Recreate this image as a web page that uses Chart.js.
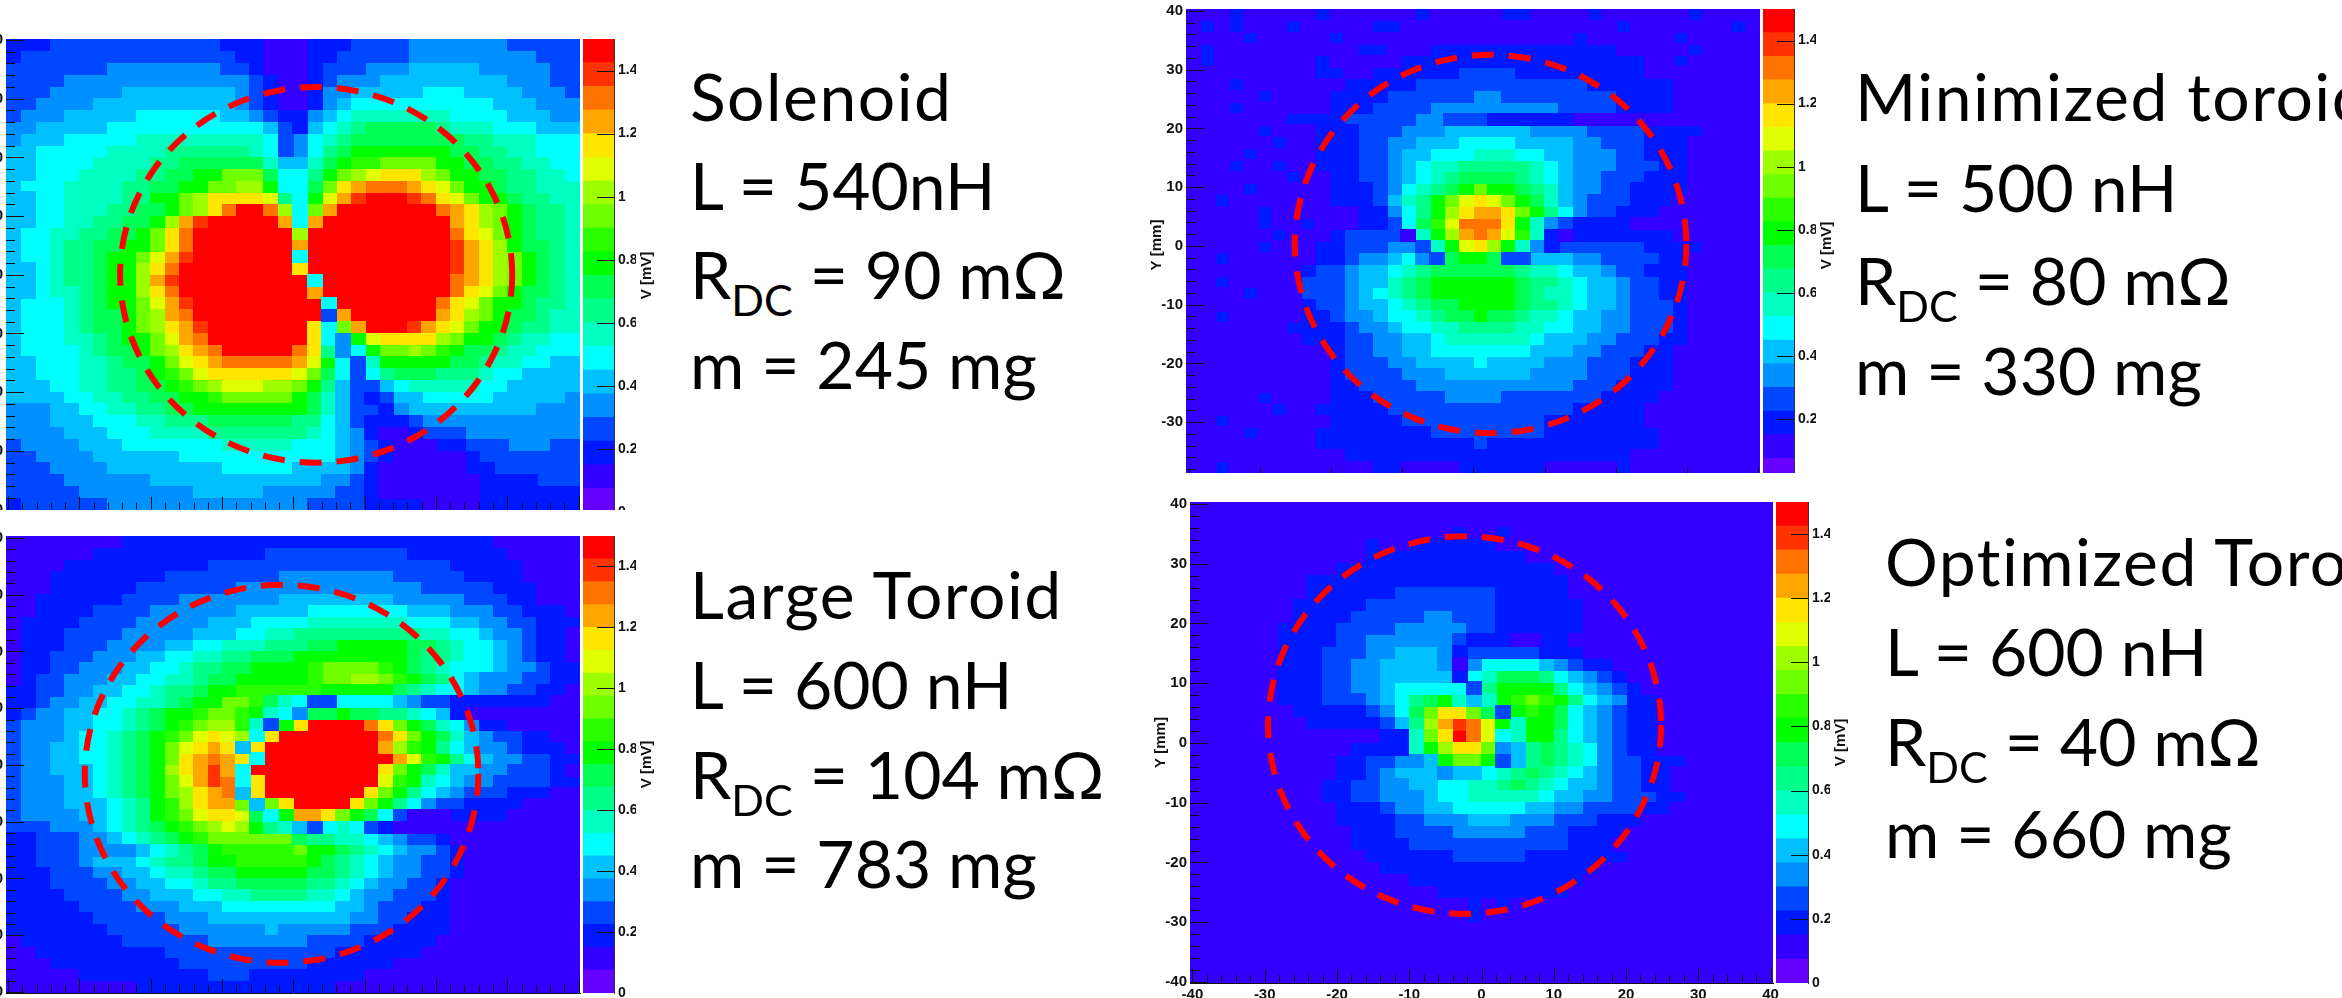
<!DOCTYPE html>
<html><head><meta charset="utf-8">
<style>
html,body{margin:0;padding:0;background:#fff;width:2342px;height:998px;overflow:hidden}
.crop{position:absolute;left:0;top:0;width:2342px;overflow:hidden}
canvas{position:absolute}
.t{position:absolute;font-family:Lato,"Open Sans",sans-serif;font-size:66px;line-height:80px;color:#000;white-space:nowrap}
.t.head{letter-spacing:1.5px}
.t span{font-size:43px;position:relative;top:17px}
</style>
<script src="https://cdn.jsdelivr.net/npm/chart.js@4"></script>
</head><body>
<script>
const levelColors=["#6600ff","#3300ff","#0018ff","#0048ff","#0090ff","#00c0ff","#00ffff","#00ffc3","#00ff8a","#00ff55","#00ff00","#2aff00","#6eff00","#9dff00","#e0ff00","#ffe600","#ffa500","#ff7300","#ff3300","#ff0000"];
const bandEdges=[0,0.075,0.15,0.225,0.3,0.375,0.45,0.525,0.6,0.675,0.75,0.825,0.9,0.975,1.05,1.125,1.2,1.275,1.35,1.425,1.5];
const colorTicks=[0,0.2,0.4,0.6,0.8,1,1.2,1.4];
const colorAxisTitle='V [mV]';
const axisTicks=[-40,-30,-20,-10,0,10,20,30,40];
const minorAxisTicks=[-38,-36,-34,-32,-28,-26,-24,-22,-18,-16,-14,-12,-8,-6,-4,-2,2,4,6,8,12,14,16,18,22,24,26,28,32,34,36,38];

const solenoidRows=[
"222 333333333333 222 111 222 3333 4444444 33333",
"2 333333333333333 22 111 22 33333 444444444 333",
"3333333 44444444 33 2 111 2 333 444 55555 44444 33",
"3333 4444444444444 3 2 11 2 3 444 555555555 444 33",
"333 44444 55555555 4 3 2 11 2 44 55555 666 5555 444 3",
"33 4444 5555555555 4 3 2 11 2 4 5 6666666666 555 444",
"3 444 55555 666666 55 4 3 22 4 5 6 7777777 6666 555 44",
"44 55555 66666666666 5 3 2 5 6 7 8 99999 8 777 666 555",
"4 555 66666 777777777 6 3 4 6 7 8 99999999 88 777 666",
"55 66666 7777 888888 7 6 3 4 6 8 9 aaaaaaa 99 88 77 666",
"55 6666 7777 88 999999 7 5 5 7 9 a bb cccc aa 99 88 77 66",
"55 666 7777 88 99 aa ccc 9 6 6 8 a c d e fff d c aa 99 88 77 6",
"5 666 7777 88 99 aa cc dd a 6 6 9 c f g hhh g f e c aa 9 88 77 7",
"55 66 7777 88 aa c d ffff e 8 6 a e g i jjj i h f e c aa 9 88 77",
"55 66 777 88 99 a c d f h jj h d 6 c g jjjjjjj h g f d c a 9 88 7",
"55 66 77 88 99 a d g i jjjjj g 6 g jjjjjjjjj g f d c a 9 88 7",
"5 66 77 88 99 a c f h jjjjjjj d jjjjjjjjjj h f e c a 9 88 7",
"5 66 7 88 99 aa c f h jjjjjjj g jjjjjjjjjj i g f d a 99 8 7",
"5 6 6 7 88 9 aa c e g i jjjjjjj 6 jjjjjjjjjj i g f d c a 9 8 7",
"55 6 7 88 9 aa d f h jjjjjjjj f jjjjjjjjjj i g f d c a 9 8 7",
"55 6 7 88 9 aa d g i jjjjjjjjj 6 jjjjjjjjj h g f d c a 9 8 7",
"55 6 77 8 9 aa d f h jjjjjjjjj g jjjjjjjjj h f e c a 99 8 7",
"5 666 7 8 9 aa c e g i jjjjjjjjj 6 jjjjjjj h f e c aa 9 88 7",
"5 666 7 8 99 a c d g h jjjjjjjjj 3 g jjjjjj g f d c a 99 8 77",
"5 666 7 8 99 a c d f g i jjjjjjj f 6 c g jjj i g f e c aa 9 88 77",
"5 666 77 8 9 aa c e g h jjjjjjj f 6 4 a e ffff d c aa 9 8 77 66",
"5 6666 7 8 99 a c d f g h jjjjj h f 8 4 6 a cc d c b a 99 8 77 666",
"55 666 77 8 99 a c e f g hhhhh g e a 6 3 7 aaaaa 99 8 77 66 55",
"55 666 77 88 9 a b c e ffffff e c 9 6 3 6 8 999 888 7 66 5555",
"555 66 77 88 99 a b c d eee dd c a 8 5 33 5 6 77777 66 55555",
"5555 66 77 88 99 aa b ccccc a 9 7 5 3 2 3 55 66666 55555 4",
"444 55 66 77 88 99 aaaaaaaa 9 7 5 33 2 4 555555555 444",
"444 555 666 77 888 999999 88 6 5 3 2 22 3 44444444444",
"4444 555 666 7777 8888888 7 6 5 4 2 11 2 333 44444444",
"3 4444 555 6666666 77777 666 5 4 3 2 111 22 333 444 33",
"33 4444 555555 66666666666 5 4 3 2 11111 2 3333333",
"333 4444 55555555 66666 5555 4 2 111111 22 333333",
"3333 444444 555555555555 44 3 2 1111111 2222 333",
"33333 44444444 55555 44444 33 2 1111111 2222222",
"2 333333 44444444444444 3333 2 222 1111 2222222"];

const largeToroidRows=[
"11111111 22222222222222222222222222 111111",
"111111 222222222222 3333333333 2222222 11111",
"1111 2222222222 33333333333333333 22222 1111",
"111 22222222 33333333 44444444 33333 2222 1111",
"111 222222 3333333 4444444444444 33333 222 111",
"11 222222 3333 4444444 55555555 44444 333 22 111",
"11 2222 3333 444444 55555 6666666 555 444 33 222 1",
"1 2222 3333 44444 555 6666 7777777 666 55 44 33 222",
"1 222 3333 44444 555 66 77 888888888 77 66 5 44 3 22 1",
"1 222 333 4444 55 66 777 888 99 aaaaa 99 8 7 66 5 4 3 22 1",
"1 22 333 444 55 66 77 88 999 aaaaaaaa 9 88 7 66 5 4 3 22 1",
"1 22 33 444 55 66 7 88 99 aaaa b cccc b a 9 8 7 666 5 44 3 22",
"1 2 33 444 55 66 77 8 99 aaaaa b cc dd c b a 9 8 6 5 444 33 22",
"22 33 44 55 66 7 88 9 aa bbbbbb aaaaa 9 8 7 66 5 44 33 22 1",
"22 3 44 55 66 77 8 9 aa cc b 9 7 6 33 6 666 5 4 33 2222222 11",
"2 3 44 55 66 7 8 9 a a b cc b a 7 6 4 99 a 99 88 7 6 5 2 11111111",
"3 444 55 66 7 8 9 a b c d d b 7 3 a f jjjj h f c a 9 7 6 4 22 11111",
"3 444 5 66 7 8 9 a b c e f e d 6 f jjjjjjj h f c a 9 7 5 4 33 22 11",
"3 44 55 66 7 8 9 a c e f g f 5 f jjjjjjjj g d b a 8 6 5 44 3 222 1",
"3 44 55 66 7 8 9 a c f g h g f 6 jjjjjjjjj g e b a 8 6 5 44 33 22 1",
"3 44 555 6 7 8 9 a d f g i g 6 jjjjjjjjj f c a 9 7 55 44 333 2 1",
"3 444 55 6 7 8 9 a c e g i h 6 f jjjjjjjj e b a 7 6 5 44 3333 22",
"3 444 55 6 7 8 9 a c d f g h 5 f jjjjjjj f c a 8 6 5 4 333 222 11",
"3 444 555 6 7 8 a b d f g g c 5 c f jjjj f c a 8 6 4 33 2222 1111",
"3 4444 55 6 7 8 a b c e ff e 9 6 a g g f c a 9 6 3 111 2222 11111",
"333 444 5 6 7 8 9 a b c d e d a 8 7 5 3 6 7 6 3 2 1111111111111",
"22 333 44 5 6 7 8 9 a b c ccccc 9 88 77 6 5 4 33 2 111111111",
"22 333 4444 5 6 7 8 9 a bbbbb c aa 9 8 7 6 5 44 3 2 111111111",
"22 333 4 555 6 7 88 9 aa bbbbb a 9 8 7 6 5 44 33 2 11111111",
"222 333 44 55 6 77 8 99 aaaaa 99 8 7 6 5 44 33 2 11111111",
"222 3333 44 55 66 7 8 8 99999 88 7 6 5 44 33 2 111111111",
"2222 3333 44 555 66 77 8888 77 6 5 44 333 2 111111111",
"22222 3333 444 555 66666666 55 4 333 22 111111111",
"222222 33333 444 5555555555 44 33 222 111111111",
"2222222 33333 444444 5 44444 333 2222 111111111",
"1 2222222 333333 4444444 3333 22222 1111111111",
"11 222222222 333333333333 222222 11111111111",
"111 222222222 333333333 222222 1111111111111",
"11111 222222222 333 22222222 111111111111111",
"111111111 22222222222222 11111111111111111"];

const minimizedToroidRows=[
"111 2 11111 2 111111 2 11111 22 1111 2 111111 2 1111",
"1 2 1 2 111 2 11111 22 111111111111111 2 1111111 2 1",
"1111 2 11111 2 1111111111111111 2 111111 2 11111",
"1 2 1111111111 22 111 2222222222222 11111 2 1111",
"1 2 1111111 2 11111 22222222222222222 11211111",
"111111111 22 11 222222 3333 222222222 1111 1111",
"111 2 1111111 22222 333333333333 222222 111111",
"11111 2 1111 2222 333333 44 33333333 2222 111111",
"111 2 111111 222 3333 444444444 3333 2222 111111",
"1111111 2222 33333 44 333 222222 1111111111111",
"11111 2 111 222 333 444 555555 4444 3333 2222 1111",
"111111 2 11 222 33 44 555 6666 5555 44 333 222 11111",
"1111 2 1111 222 33 4 55 666 777 66 55 444 33 222 11111",
"111 2 11 2 11 222 33 4 5 6 77 88888 7 6 5 444 333 22 11111",
"1111111 2 11 22 33 4 5 6 7 8 9999 8 7 6 5 44 333 222 11111",
"1111 2 11111 222 3 4 6 7 8 9 a c aa 9 8 7 5 44 33 2222 11111",
"11 2 1111111 222 3 5 7 8 a c e f e c a 9 7 5 4 333 222 111111",
"11111 2 111111 22 4 6 8 a d f gg f c a 8 6 4 33 222 1111111",
"11111 2 11 2 111 22 3 6 9 b e hhh f a 7 4 3 2222 111111111",
"1111112111 2 3333 1 7 a d g h g e b 7 2 1 2222222 111111",
"11111 2 111 22 333 44 3 7 a e f d a 7 4 2 333333 2222 1111",
"11 2 111111 22 3 44 5 6 4 3 9 aa 9 33 555 44 3333 22 11111",
"11111111 2 33 4 55 6 7 8 999999 8 77 6 55 4 33 222 11111",
"11 2 11111 333 4 55 7 8 9 aaaaaa 9 88 7 6 55 4 33 22 11111",
"1111 2 111 333 4 5 6 7 8 9 aaaaaa 9 8 77 6 55 4 33 22 11111",
"11111111 2 33 4 55 6 7 8 99 aaaa 9 88 7 6 55 4 333 2 11111",
"11 2 11111 22 3 44 5 66 7 8 99 a 99 8 77 6 55 44 333 2 11111",
"1111111 2222 3 44 5 66 77 8888 77 66 55 44 333 2 11111",
"11111111 222 33 44 55 6 777777 6 555 44 333 22 11111",
"1111111111 2 33 44 55 6666666 555 44 333 22 111111",
"1111111111 2 333 44 5555 6 5555 444 333 222 111111",
"1111111111 2 3333 444 555555 4444 333 222 111111",
"1111111111 22 3333 44444444444 333 2222 111111",
"1111121111 222 33333 4444 3333333 2222 1111111",
"111111 2 11 22222 3333333333333 22222 11111111",
"11 2 1111111 22222 3333333333 2222222 11111111",
"1111 2 1111 22222222 33333333 22222222 1111111",
"111111111 22222222222 3 222222222222 1111111",
"11111111111 22222222222222222222 111111111",
"11 2 1111111111 22 1111 222222 11111 2 111111111"];

const optimizedToroidRows=[
"1111111111111111111111111111111111111111",
"1111111111111111111111111111111111111111",
"111111111111111111 2 11 2 111111111111111111",
"111111111111 2 11 222222 1111111111111111111",
"111111111111 22222222222 11111111111111111",
"1111111111 222222222222222 111111111111111",
"11111111 222222222222222222 11111111111111",
"11111111 222222 3333333 22222 11111111111111",
"1111111 22222 333333333 222222 1111111111111",
"1111111 2222 33333 44 333 222222 1111111111111",
"111111 2222 3333 44444 33 222222 1111111111111",
"111111 2222 33 444444 3 222 11 22 11111111111111",
"111111 222 333 44 555 4 2 33333 222 1111111111111",
"111111 222 33 44 5555 4 1 4 6666 5 4 3 22 11111111111",
"111111 222 33 44 55555 2 6 7 999 8 6 5 4 3 2 1111111111",
"111111 222 33 44 5 66666 3 8 a aaa 8 6 5 4 3 2 111111111",
"111111 222 333 4 5 6 8 9 a 7 5 7 a b c b a 8 6 5 4 22 11111111",
"1111111 22222 3 4 6 9 c ff c 9 3 a b a 9 6 5 4 3 22 11111111",
"11111111 22222 3 5 8 d g i h e a 7 a a 9 6 5 4 3 22 11111111",
"1111111111111 22 7 c f j h e 6 7 a a 8 6 5 4 3 22 11111111",
"11111111111 2 222 7 a d f f c 4 5 8 9 8 7 6 4 3 22 11111111",
"1111111111 22 33 4 4 5 a c c a 3 5 8 9 8 7 6 4 33 222 111111",
"1111111111 22 3 4 555 4 55 6 7 8 9 8 7 6 5 4 33 22 1111111",
"111111111 22 33 44 55 66 77 8 9 8 7 6 55 4 33 22 1111111",
"111111111 22 33 444 5 66 77777 6 55 44 333 22 111111",
"1111111111 222 3 44 55 66666 55 44 3333 22 1111111",
"1111111111 2222 33 444 555 444 333 222 111111111",
"11111111111 222 3333 44444 333 2222 1111111111",
"11111111111 2222 33333333333 222 11111111111",
"111111111111 222222 33333 2222222 1111111111",
"1111111111111 222222222222222 111111111111",
"111111111111111 222222222222 1111111111111",
"11111111111111111 222222222 11111111111111",
"1111111111111111111 2 1 2 111111111111111111",
"1111111111111111111 2 11111111111111111111",
"1111111111111111111111111111111111111111",
"1111111111111111111111111111111111111111",
"1111111111111111111111111111111111111111",
"1111111111111111111111111111111111111111",
"1111111111111111111111111111111111111111"];

const solenoidLines=["Solenoid","L = 540nH","R<span>DC</span> = 90 mΩ","m = 245 mg"];
const largeToroidLines=["Large Toroid","L = 600 nH","R<span>DC</span> = 104 mΩ","m = 783 mg"];
const minimizedToroidLines=["Minimized toroid","L = 500 nH","R<span>DC</span> = 80 mΩ","m = 330 mg"];
const optimizedToroidLines=["Optimized Toroid","L = 600 nH","R<span>DC</span> = 40 mΩ","m = 660 mg"];

const solenoidCircle=[3.2,0,27.5,32.0];
const largeToroidCircle=[-1.65,-1.55,27.6,33.3];
const minimizedToroidCircle=[2.4,0.34,27.5,32.2];
const optimizedToroidCircle=[-2.34,3.0,27.2,31.6];

const panels=[
 {rows:solenoidRows,circle:solenoidCircle,lines:solenoidLines,textX:690,base:[122,211,300,390],
  L:6,R:580,T:39,B:510,crop:510,x:[-40.3,40.2],y:[-40.07,40.17],gridY:[-40.07,40.17],bL:583,bR:614,bT:38.5,bB:511.8},
 {rows:largeToroidRows,circle:largeToroidCircle,lines:largeToroidLines,textX:690,base:[620,710,800,889],
  L:6,R:580,T:536,B:993,crop:998,x:[-40.3,40.2],y:[-40.18,40.35],gridY:[-40.18,40.35],bL:583,bR:614,bT:536,bB:993},
 {rows:minimizedToroidRows,circle:minimizedToroidCircle,lines:minimizedToroidLines,textX:1855,base:[122,213,306,396],
  L:1186,R:1760,T:9,B:480.6,crop:473,x:[-40.38,40.24],y:[-40,40.34],gridY:[-38.7,40.34],bL:1763,bR:1794,bT:8.5,bB:481.4},
 {rows:optimizedToroidRows,circle:optimizedToroidCircle,lines:optimizedToroidLines,textX:1885,base:[587,677,767,859],
  L:1190,R:1773,T:502,B:983,crop:998,x:[-40.34,40.34],y:[-40.17,40.33],gridY:[-40.17,40.33],bL:1776,bR:1808,bT:502,bB:983}
];

const tickFont={family:'"Liberation Sans",Arial,sans-serif',size:15,weight:'bold'};
const barFont={family:'"Liberation Sans",Arial,sans-serif',size:14,weight:'bold'};
function fixSize(prop,v){return s=>{s[prop]=v;s.paddingLeft=s.paddingRight=s.paddingTop=s.paddingBottom=0;};}
function cellImage(color,w,h){const c=document.createElement('canvas');c.width=w;c.height=h;const g=c.getContext('2d');g.fillStyle=color;g.fillRect(0,0,w,h);return c;}

function heatDatasets(p){
  const N=40,cellW=Math.ceil((p.R-p.L)/N)+1,
        gy=p.gridY,gx=p.x;
  const yPix=(p.B-p.T)/(p.y[1]-p.y[0])*(gy[1]-gy[0])/N;
  const cellH=Math.ceil(yPix)+1;
  const sets=levelColors.map(c=>({data:[],pointStyle:cellImage(c,cellW,cellH),pointRadius:1,pointHoverRadius:1,showLine:false,borderWidth:0,backgroundColor:c}));
  p.rows.forEach((raw,r)=>{
    let row=raw.replace(/ /g,'');row=row.padEnd(N,row[row.length-1]).slice(0,N);
    for(let c=0;c<N;c++){
      sets[parseInt(row[c],36)].data.push({x:gx[0]+(c+.5)*(gx[1]-gx[0])/N,y:gy[1]-(r+.5)*(gy[1]-gy[0])/N});
    }
  });
  return sets;
}

function plotOverlay(circle){return {id:'overlay',afterDatasetsDraw(ch){
  const g=ch.ctx,a=ch.chartArea,X=ch.scales.x,Y=ch.scales.y;
  g.save();g.beginPath();g.rect(a.left,a.top,a.width,a.height);g.clip();
  g.strokeStyle='#111';g.lineWidth=1;g.beginPath();
  const yTick=(v,l)=>{const p=Math.round(Y.getPixelForValue(v))+.5;g.moveTo(a.left,p);g.lineTo(a.left+l,p);};
  const xTick=(v,l)=>{const p=Math.round(X.getPixelForValue(v))+.5;const b=Y.getPixelForValue(-40);g.moveTo(p,b);g.lineTo(p,b-l);};
  axisTicks.forEach(v=>{yTick(v,18);xTick(v,13);});
  minorAxisTicks.forEach(v=>{yTick(v,9);xTick(v,7);});
  g.stroke();
  const [cx,cy,rx,ry]=circle;
  const px=X.getPixelForValue(cx),py=Y.getPixelForValue(cy);
  const prx=X.getPixelForValue(cx+rx)-px,pry=py-Y.getPixelForValue(cy+ry);
  g.strokeStyle='#ff0000';g.lineWidth=6;g.setLineDash([22,15]);
  g.beginPath();g.ellipse(px,py,prx,pry,0,0,Math.PI*2);g.stroke();
  g.restore();
}};}

const barOverlay={id:'barOverlay',afterDraw(ch){
  const g=ch.ctx,a=ch.chartArea,Y=ch.scales.y;
  g.save();g.strokeStyle='#111';g.lineWidth=1;g.beginPath();
  colorTicks.forEach(v=>{const p=Math.round(Y.getPixelForValue(v))+.5;if(p<a.bottom-1){g.moveTo(a.right,p);g.lineTo(a.right-17,p);}});
  g.stroke();
  g.translate(a.right+33,(a.top+a.bottom)/2);g.rotate(-Math.PI/2);
  g.fillStyle='#111';g.font='bold 15px "Liberation Sans",Arial,sans-serif';g.textAlign='center';g.textBaseline='middle';
  g.fillText(colorAxisTitle,0,0);
  g.restore();
}};

panels.forEach(p=>{
  const wrap=document.createElement('div');wrap.className='crop';wrap.style.height=p.crop+'px';document.body.appendChild(wrap);
  const axisW=38,padT=10,padR=20,axisH=30;
  const cv=document.createElement('canvas');
  cv.width=Math.round(p.R-p.L)+axisW+padR;cv.height=Math.round(p.B-p.T)+padT+axisH;
  cv.style.left=(p.L-axisW)+'px';cv.style.top=(p.T-padT)+'px';wrap.appendChild(cv);
  new Chart(cv,{type:'scatter',data:{datasets:heatDatasets(p)},plugins:[plotOverlay(p.circle)],options:{
    responsive:false,animation:false,events:[],parsing:false,normalized:true,
    layout:{padding:{top:padT,right:padR,left:0,bottom:0}},
    plugins:{legend:{display:false},tooltip:{enabled:false},title:{display:false}},
    scales:{
      x:{type:'linear',min:p.x[0],max:p.x[1],afterFit:fixSize('height',axisH),afterBuildTicks:s=>{s.ticks=axisTicks.map(v=>({value:v}));},
         grid:{display:false,drawTicks:false},border:{display:true,color:'#111'},
         ticks:{font:tickFont,color:'#111',padding:3,maxRotation:0,autoSkip:false,callback:v=>String(v)}},
      y:{type:'linear',min:p.y[0],max:p.y[1],afterFit:fixSize('width',axisW),afterBuildTicks:s=>{s.ticks=axisTicks.map(v=>({value:v}));},
         grid:{display:false,drawTicks:false},border:{display:true,color:'#111'},
         title:{display:true,text:'Y [mm]',font:tickFont,color:'#111',padding:0},
         ticks:{font:tickFont,color:'#111',padding:3,autoSkip:false,callback:v=>String(v)}}
    }}});
  const barAxis=22,barPadR=26,barPadT=10;
  const bv=document.createElement('canvas');
  bv.width=Math.round(p.bR-p.bL)+barAxis+barPadR;bv.height=Math.round(p.bB-p.bT)+barPadT+14;
  bv.style.left=p.bL+'px';bv.style.top=(p.bT-barPadT)+'px';wrap.appendChild(bv);
  new Chart(bv,{type:'bar',data:{labels:['V'],datasets:levelColors.map((c,i)=>({data:[[bandEdges[i],bandEdges[i+1]]],backgroundColor:c,borderWidth:0,grouped:false,categoryPercentage:1,barPercentage:1}))},
    plugins:[barOverlay],options:{
    responsive:false,animation:false,events:[],
    layout:{padding:{top:barPadT,right:barPadR,left:0,bottom:14}},
    plugins:{legend:{display:false},tooltip:{enabled:false}},
    scales:{
      x:{display:false},
      y:{type:'linear',position:'right',min:0,max:1.5,afterFit:fixSize('width',barAxis),afterBuildTicks:s=>{s.ticks=colorTicks.map(v=>({value:v}));},
         grid:{display:false,drawTicks:false},border:{display:true,color:'#333'},
         ticks:{font:barFont,color:'#111',padding:4,autoSkip:false,callback:v=>String(v)}}
    }}});
  p.lines.forEach((html,i)=>{
    const d=document.createElement('div');d.className='t'+(i===0?' head':'');d.innerHTML=html;
    d.style.left=p.textX+'px';d.style.top=(p.base[i]-66)+'px';document.body.appendChild(d);
  });
});
</script>
</body></html>
